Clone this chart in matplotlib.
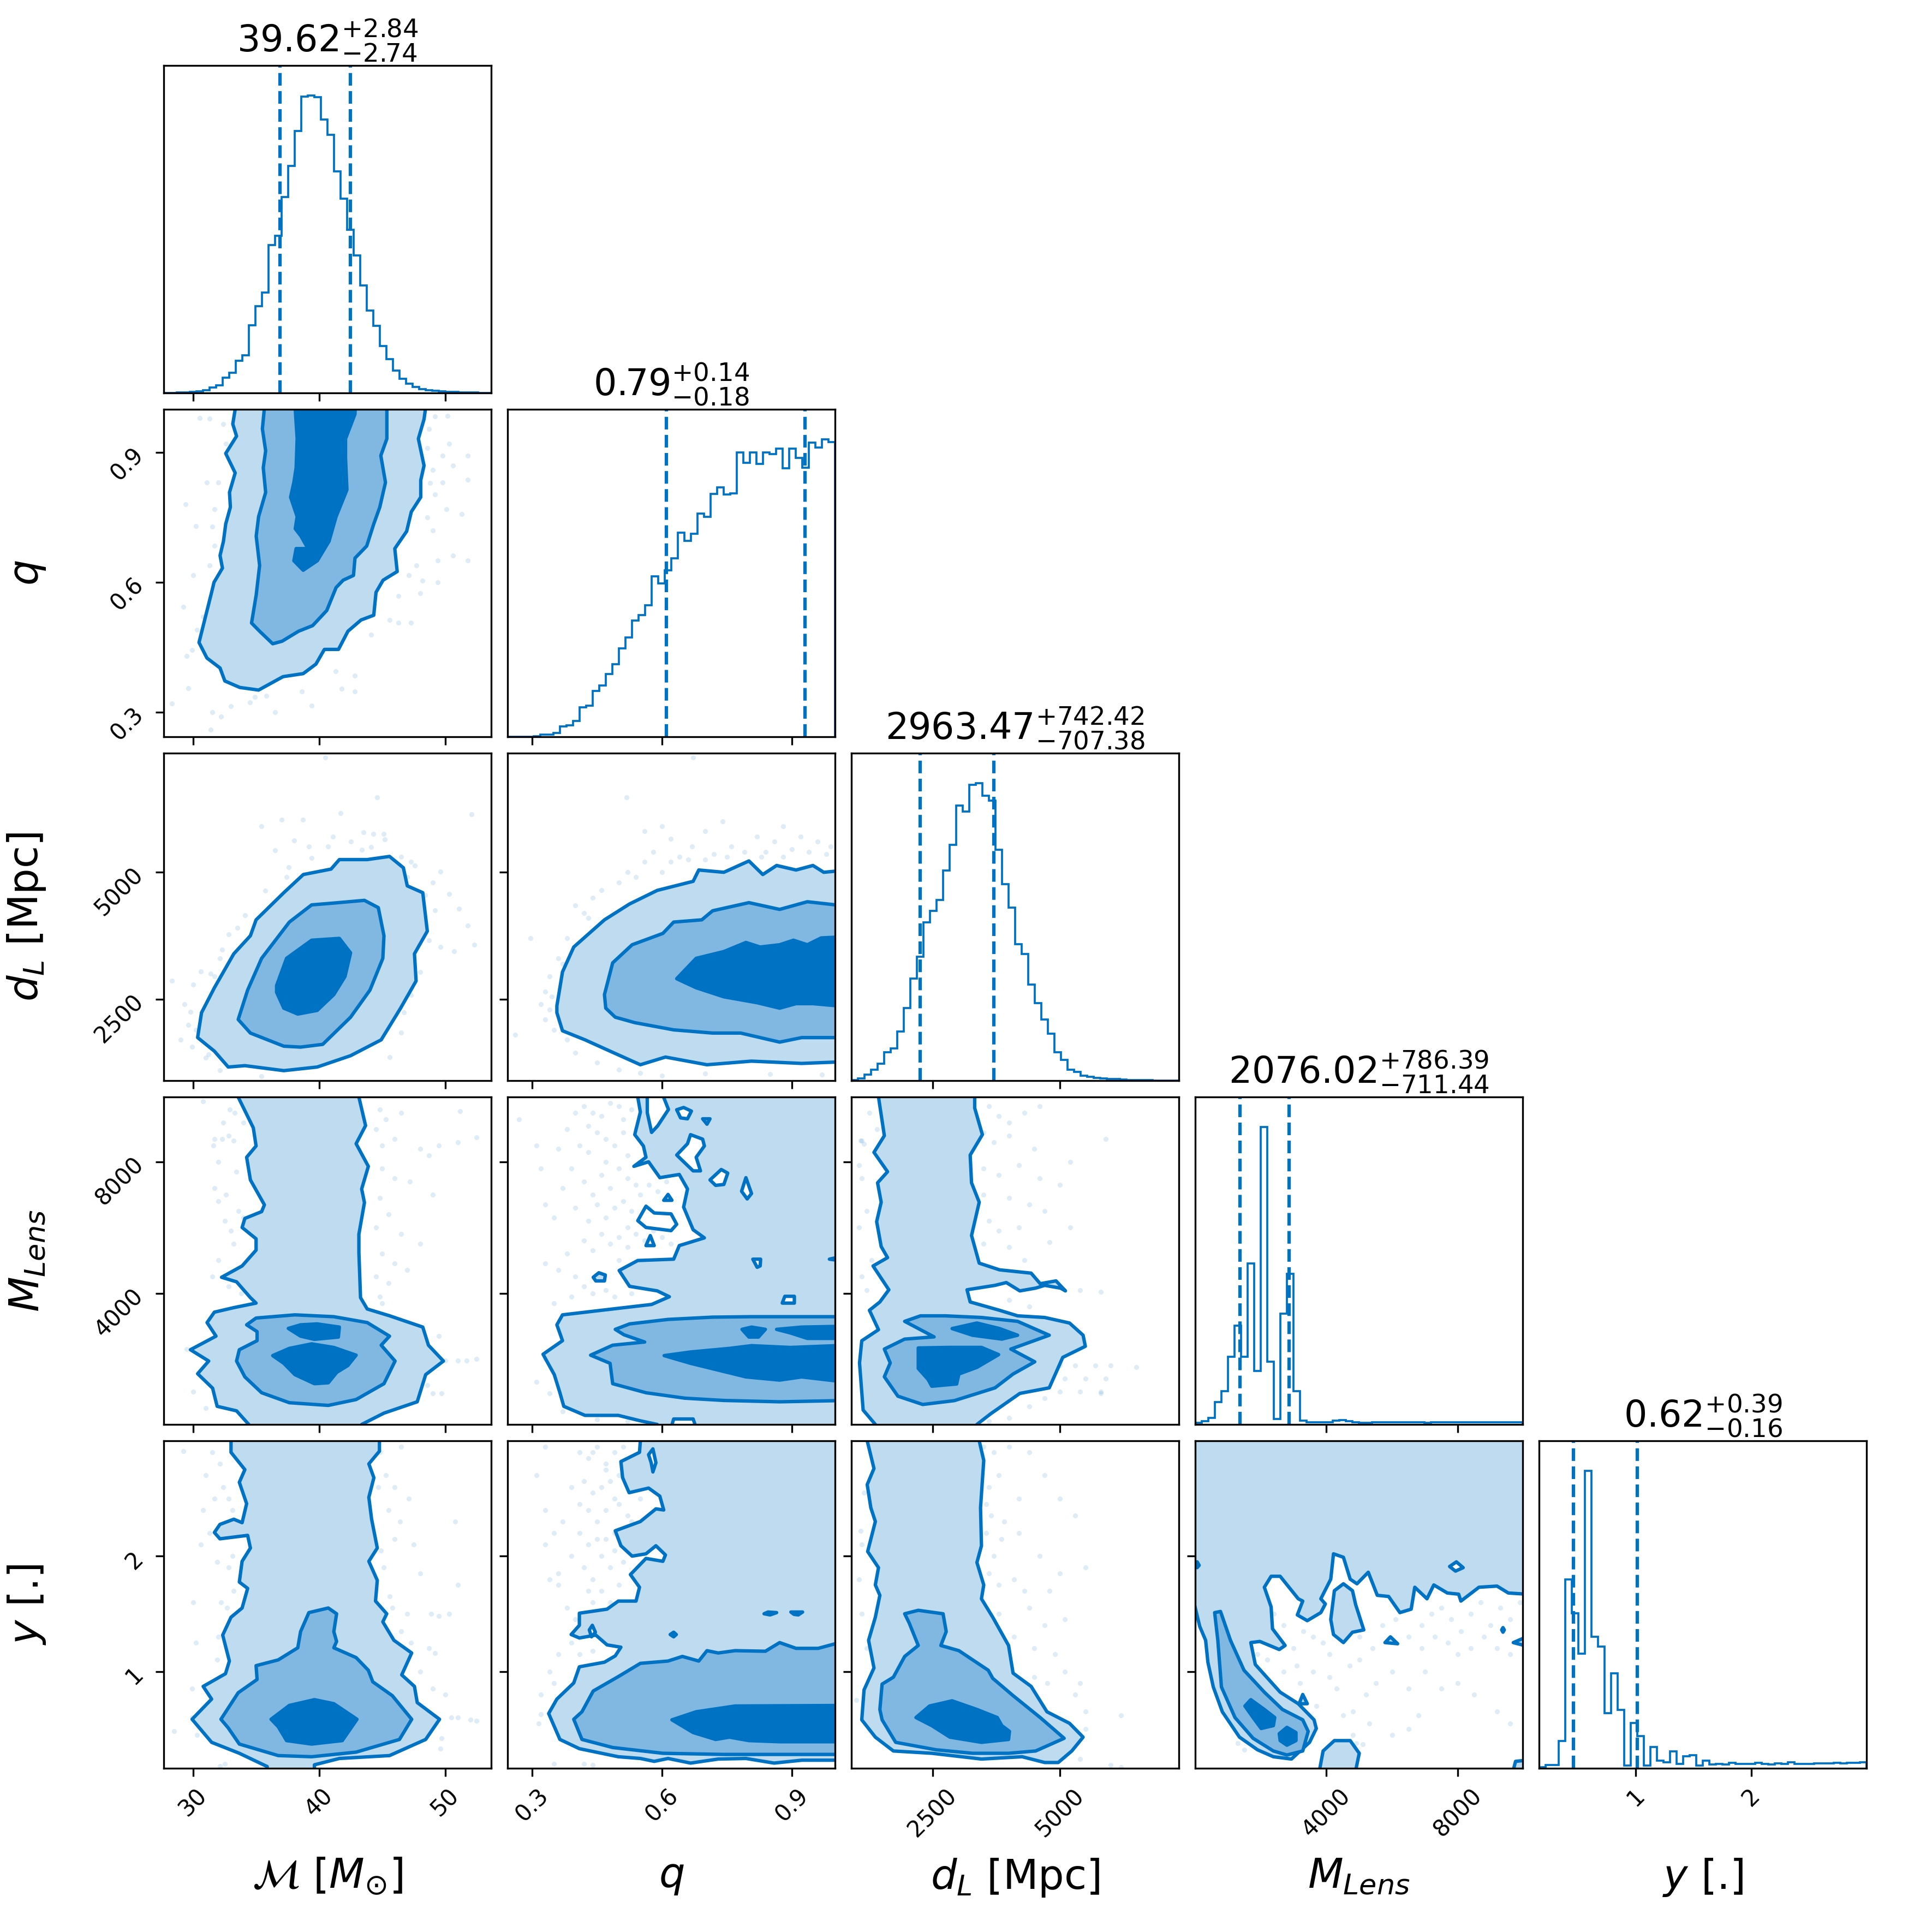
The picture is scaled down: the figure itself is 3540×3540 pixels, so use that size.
import numpy as np
import matplotlib
matplotlib.use("Agg")
import matplotlib.pyplot as plt

# parameter ranges and ticks
lims = [(27.66, 53.65), (0.243, 1.0), (900, 7340), (0, 9980), (0.16, 3.0)]
ticks = [[30, 40, 50], [0.3, 0.6, 0.9], [2500, 5000], [4000, 8000], [1, 2]]
tick_labels = [["30", "40", "50"], ["0.3", "0.6", "0.9"], ["2500", "5000"], ["4000", "8000"], ["1", "2"]]
labels = [r"$\mathcal{M}$ [$M_{\odot}$]", r"$q$", r"$d_L$ [Mpc]", r"$M_{Lens}$", r"$y$ [.]"]

# median, +err, -err
medians = [39.62, 0.79, 2963.47, 2076.02, 0.62]
err_up = [2.84, 0.14, 742.42, 786.39, 0.39]
err_lo = [2.74, 0.18, 707.38, 711.44, 0.16]

# histograms, 50 bins
hist_mc = [0, 0, 1, 1, 2, 3, 6, 11, 16, 31, 41, 66, 77, 139, 177, 205, 303, 322, 401, 464, 536, 606, 609, 605, 559,
           528, 453, 398, 334, 281, 220, 169, 137, 96, 69, 46, 29, 19, 12, 8, 6, 4, 3, 2, 2, 1, 1, 1, 0, 0]
hist_q = [0, 0, 0, 0, 1, 5, 4, 8, 21, 24, 32, 60, 64, 94, 105, 129, 149, 181, 204, 238, 249, 269, 329, 314, 341,
          366, 418, 401, 416, 457, 451, 498, 511, 496, 499, 583, 561, 583, 559, 583, 579, 591, 550, 591, 571,
          551, 603, 593, 610, 604]
hist_dl = [1, 4, 12, 22, 34, 58, 66, 100, 148, 208, 252, 322, 346, 368, 428, 480, 560, 548, 602, 606, 580, 570, 470,
           400, 352, 278, 258, 196, 158, 124, 96, 58, 42, 22, 18, 10, 8, 6, 4, 3, 3, 2, 1, 1, 1, 1, 0, 0, 0, 0]
hist_ml = [5, 11, 23, 80, 120, 244, 356, 244, 578, 192, 1070, 225, 20, 399, 541, 120, 14, 7, 7, 7, 8, 13, 15, 11, 8,
           6, 6, 8, 8, 8, 8, 8, 8, 8, 7, 6, 7, 8, 8, 8, 8, 8, 7, 8, 8, 8, 8, 8, 8, 8]
hist_y = [3, 10, 10, 83, 578, 474, 350, 911, 403, 373, 168, 291, 178, 8, 138, 98, 8, 65, 23, 18, 52, 13, 36, 40, 8,
          23, 11, 13, 12, 16, 14, 13, 14, 16, 14, 12, 15, 13, 18, 13, 14, 13, 15, 15, 15, 16, 15, 16, 16, 18]

# chirp mass vs q
mc_q_outer = [(33.33, 1.05), (33.33, 1.0), (33.14, .966), (33.44, .938), (32.58, .898), (33.33, .853), (32.88, .808),
              (32.95, .774), (32.58, .735), (32.40, .695), (32.13, .662), (32.32, .633), (31.65, .600), (31.46, .577),
              (31.02, .526), (30.46, .461), (31.09, .425), (32.13, .402), (32.51, .372), (33.70, .357), (35.19, .351),
              (37.13, .382), (38.73, .389), (39.74, .411), (40.41, .445), (41.53, .445), (42.28, .487), (43.32, .513),
              (44.33, .524), (44.51, .577), (45.07, .605), (46.19, .625), (46.0, .678), (46.94, .718), (47.31, .763),
              (48.06, .797), (48.06, .836), (48.32, .870), (47.87, .932), (48.32, .977), (48.43, 1.0), (48.43, 1.05)]
mc_q_mid = [(35.64, 1.05), (35.64, 1.0), (35.49, .955), (35.75, .904), (35.56, .865), (35.75, .808), (35.19, .752),
            (35.0, .707), (35.27, .639), (35.0, .571), (34.63, .506), (35.27, .487), (36.31, .458), (37.06, .464),
            (38.36, .487), (39.48, .500), (40.6, .535), (41.34, .588), (41.9, .605), (42.72, .616), (42.84, .656),
            (43.77, .684), (44.33, .735), (44.81, .774), (45.26, .831), (44.89, .893), (45.37, .932), (45.37, 1.05)]
mc_q_inner = [(38.1, 1.05), (38.1, 1.0), (38.25, .932), (38.17, .865), (37.99, .831), (37.73, .797), (38.25, .752),
              (38.1, .724), (38.55, .707), (39.11, .678), (38.17, .678), (37.99, .650), (38.73, .628), (39.85, .650),
              (40.78, .695), (41.34, .752), (42.2, .814), (42.09, .887), (42.09, .932), (42.84, .989), (42.91, 1.05)]
mc_q_pts = [(30.5, .98), (30, .616), (29.4, .78), (29.2, .543), (30.2, .73), (29.9, .444), (29.6, .355), (28.3, .32),
            (31.4, .26), (33, .314), (34.5, .323), (34.9, .335), (35.8, .337), (38.6, .348), (39.4, .315), (41.8, .354),
            (42.8, .348), (42.8, .384), (41.3, .395), (44.1, .479), (45.6, .513), (46.3, .507), (47.3, .507), (46.3, .569),
            (48, .575), (48.2, .604), (47.1, .616), (47.7, .639), (49.4, .650), (50.6, .662), (51.8, .650), (49.4, .600),
            (50.1, .769), (51.3, .758), (49.2, .803), (49.8, .831), (51.8, .837), (50.6, .870), (49.8, .893), (51.8, .893),
            (50.3, .921), (49.2, .983), (50.2, .985), (48.7, .955), (48.6, .910), (31.1, .831), (31.7, .769), (31.5, .729),
            (31.3, .639), (32.6, .921), (32.4, .966), (31.3, .978), (32, .831), (31.7, .684), (49, .860), (48.8, .830),
            (30.8, .52), (30.3, .49), (29.5, .43), (31.5, .30), (32.2, .29), (36.5, .30), (48.6, .75), (49, .72)]

# chirp mass vs distance
mc_d_outer = [(30.35, 1746), (30.66, 2236), (31.68, 2726), (33.22, 3394), (34.54, 3750), (34.99, 4062), (37.19, 4596),
              (38.74, 4953), (40.94, 5060), (41.6, 5247), (43.81, 5247), (45.58, 5309), (46.68, 5086), (46.99, 4730),
              (48.22, 4596), (48.58, 3839), (47.56, 3394), (47.69, 2860), (46.46, 2325), (44.92, 1702), (42.49, 1390),
              (39.84, 1167), (37.19, 1096), (34.1, 1194), (32.78, 1167), (31.68, 1479)]
mc_d_mid = [(33.57, 2102), (34.32, 2681), (35.43, 3305), (37.63, 4018), (39.4, 4356), (41.16, 4392), (43.59, 4445),
            (44.69, 4302), (45.14, 3750), (45.05, 3305), (44.03, 2681), (42.49, 2147), (40.28, 1613), (38.52, 1559),
            (37.19, 1577), (34.54, 1835)]
mc_d_inner = [(36.62, 2770), (37.41, 3305), (39.4, 3661), (41.6, 3697), (42.49, 3412), (42.05, 2949), (41.16, 2592),
              (39.84, 2281), (38.3, 2209), (37.19, 2325), (36.62, 2637)]
mc_d_pts = [(40.5, 7250), (44.6, 6470), (52.1, 6140), (41.7, 6160), (38.7, 6030), (37, 6030), (35.4, 5900), (43.5, 5780),
            (45.1, 5750), (40.7, 5500), (39.4, 5280), (37.4, 4900), (35.7, 4640), (34.1, 4150), (32.8, 3780), (32.3, 3480),
            (31.7, 2950), (30.6, 3050), (30, 2790), (29.8, 2250), (29.6, 2000), (28.3, 2860), (29, 1700), (29.9, 1570),
            (31.2, 1420), (32.1, 1100), (35.4, 990), (45.6, 1360), (46.5, 1840), (47.6, 5130), (48.4, 4550), (49.6, 5010),
            (50.3, 4570), (51.1, 4280), (51.8, 3950), (52.3, 3570), (50.7, 3440), (49.6, 3530), (48.7, 3660), (48, 3040),
            (47.3, 2590), (46.7, 2240), (42.5, 5600), (44.3, 5750), (45.2, 5640), (43.4, 5440), (39.2, 5500), (38, 5620),
            (36.5, 5430), (37.6, 5100), (46.5, 5300), (47.3, 5200), (48, 4100), (49.2, 4250), (30.2, 1900), (31, 1350),
            (33.5, 3900), (32.1, 3300), (29.3, 2400), (31.4, 3000), (44.1, 5490), (41.1, 5700), (47, 4900), (49, 4800)]

# q vs distance
q_d_outer = [(1.03, 1274), (.923, 1238), (.807, 1283), (.704, 1212), (.608, 1363), (.550, 1212), (.480, 1479), (.422, 1702),
             (.370, 1880), (.357, 2236), (.357, 2370), (.370, 3038), (.396, 3527), (.467, 4062), (.525, 4374), (.589, 4641),
             (.672, 4819), (.685, 5042), (.743, 4997), (.801, 5220), (.833, 4953), (.865, 5131), (.910, 5042), (.949, 5131),
             (.974, 4997), (1.03, 5042)]
q_d_mid = [(1.03, 1746), (.923, 1746), (.872, 1657), (.782, 1835), (.717, 1835), (.627, 1898), (.537, 2040), (.492, 2147),
           (.470, 2325), (.467, 2592), (.486, 3216), (.531, 3572), (.602, 3795), (.627, 4018), (.692, 4062), (.717, 4240),
           (.801, 4400), (.872, 4267), (.936, 4418), (1.03, 4329)]
q_d_inner = [(.634, 2904), (.679, 3305), (.743, 3438), (.794, 3617), (.827, 3527), (.872, 3572), (.904, 3661), (.936, 3572),
             (.968, 3706), (1.03, 3732), (1.03, 2352), (.949, 2414), (.910, 2414), (.872, 2325), (.820, 2432), (.743, 2548),
             (.679, 2726)]
q_d_pts = [(.518, 6470), (.672, 7250), (.296, 3700), (.261, 1800), (.40, 4350), (.42, 4200), (.44, 4500), (.46, 4650), (.38, 3700),
           (.36, 3300), (.34, 2950), (.33, 2650), (.32, 2400), (.34, 2300), (.35, 1900), (.38, 1700), (.40, 1450), (.45, 1250),
           (.50, 1120), (.55, 1050), (.60, 1000), (.70, 1040), (.85, 1030), (.97, 1020), (.50, 4800), (.52, 5000), (.56, 5200),
           (.58, 5400), (.60, 5000), (.62, 5650), (.64, 5300), (.67, 5500), (.70, 5800), (.72, 5350), (.74, 6000), (.76, 5500),
           (.79, 5400), (.82, 5700), (.84, 5400), (.86, 5600), (.88, 5900), (.90, 5450), (.92, 5700), (.94, 5400), (.96, 5600),
           (.98, 5350), (.99, 5500), (.62, 5200), (.66, 5250), (.70, 5250), (.75, 5300), (.83, 5300), (.88, 5300), (.54, 4900),
           (.43, 4100), (.37, 3200), (.345, 2550), (.33, 2100), (.56, 5800), (.60, 5900)]

# chirp mass vs lens mass
mc_ml_outer = [(33.57, 10100), (33.57, 9977), (34.77, 9039), (34.99, 8487), (34.24, 8142), (34.54, 7452), (35.65, 6693),
               (35.43, 6486), (34.1, 6279), (33.88, 6003), (34.99, 5658), (34.99, 5313), (33.88, 4830), (32.25, 4485),
               (33.44, 4347), (34.54, 3864), (34.99, 3698), (33.22, 3560), (31.68, 3422), (31.1, 3105), (31.81, 2691),
               (29.78, 2277), (31.23, 1932), (30.35, 1546), (31.54, 1104), (31.9, 552), (33.44, 414), (34.41, 0), (34.41, -200),
               (43.37, -200), (43.37, 0), (45.14, 345), (47.78, 690), (48.45, 1518), (49.86, 1932), (48.67, 2415), (48.22, 2967),
               (45.58, 3312), (43.81, 3519), (43.28, 3864), (43.15, 5244), (43.15, 5796), (43.59, 6762), (43.37, 7176),
               (43.9, 7866), (42.93, 8556), (43.68, 9108), (43.15, 9977), (43.15, 10100)]
mc_ml_mid = [(34.24, 3036), (34.99, 3243), (38.07, 3340), (41.16, 3284), (43.81, 3105), (45.58, 2691), (44.92, 2415),
             (46.02, 1932), (45.14, 1242), (42.93, 759), (40.72, 580), (37.63, 662), (35.43, 966), (34.1, 1449), (33.44, 1932),
             (33.66, 2277), (35.07, 2553), (35.07, 2829)]
mc_ml_inner_a = [(37.55, 2926), (38.52, 3036), (39.84, 3064), (41.6, 2967), (41.52, 2663), (39.62, 2594), (38.52, 2691)]
mc_ml_inner_b = [(36.31, 2098), (37.63, 2318), (39.4, 2456), (41.16, 2346), (42.93, 2111), (42.27, 1794), (41.39, 1587),
                 (40.72, 1270), (39.62, 1242), (38.07, 1518), (37.19, 1863)]
mc_ml_pts = [(31.7, 8700), (32.3, 8700), (32.8, 8800), (33.2, 8650), (31.6, 8500), (32.4, 9200), (33.3, 9500), (34, 9200),
             (32.9, 9600), (30.8, 9850), (32, 8000), (33.4, 7700), (31.7, 7200), (32.6, 7000), (33.6, 6500), (32.5, 6200),
             (33.2, 5500), (32, 5000), (33.9, 4700), (31.5, 4500), (32.8, 4200), (33.8, 4000), (33, 5900), (32, 6800), (34, 6300),
             (44.8, 9600), (45.3, 9300), (46.5, 9500), (44.5, 9000), (45, 8500), (46, 8700), (48, 8400), (48.7, 8200), (51, 8600),
             (45, 7800), (46, 7500), (47.2, 7400), (49, 7000), (44.8, 6900), (45.5, 6400), (44.5, 6000), (46.5, 5800), (48, 5500),
             (45, 5200), (46, 4900), (47, 4700), (44.5, 4500), (45.5, 4300), (44.8, 3900), (45, 3700), (49.5, 2700), (51, 1950),
             (51.7, 1950), (52.5, 2000), (50, 1950), (48.6, 1200), (49, 950), (49.7, 950), (30, 1000), (31, 500), (29.5, 2300),
             (52.5, 8750), (51.2, 9550), (49.5, 8500)]

# q vs lens mass
q_ml_outer = [(.544, 10100), (.544, 9977), (.550, 9522), (.537, 8832), (.557, 8487), (.563, 8142), (.535, 7866), (.569, 8004),
              (.595, 7521), (.640, 7618), (.659, 7176), (.650, 6624), (.672, 5934), (.698, 5686), (.640, 5451), (.627, 5037),
              (.544, 4996), (.501, 4692), (.525, 4209), (.589, 4071), (.617, 3892), (.576, 3657), (.486, 3519), (.370, 3340),
              (.357, 3036), (.370, 2553), (.325, 2139), (.351, 1518), (.364, 966), (.373, 552), (.422, 276), (.499, 276),
              (.550, 110), (.589, 0), (.589, -200), (1.03, -200), (1.03, 10100)]
q_ml_mid = [(1.03, 3284), (.807, 3284), (.717, 3270), (.614, 3201), (.525, 3064), (.492, 2898), (.512, 2733), (.560, 2512),
            (.486, 2415), (.435, 2111), (.480, 1863), (.486, 1242), (.563, 966), (.653, 800), (.743, 731), (.872, 690), (1.03, 731)]
q_ml_inner_a = [(.605, 2098), (.666, 2208), (.756, 2318), (.807, 2401), (.897, 2346), (1.03, 2415), (1.03, 1283), (.923, 1449),
                (.872, 1352), (.794, 1449), (.730, 1656), (.666, 1863)]
q_ml_inner_b = [(.785, 2898), (.807, 2967), (.839, 2898), (.823, 2663), (.801, 2663)]
q_ml_inner_c = [(.865, 2898), (.923, 2967), (1.03, 2994), (1.03, 2622), (.936, 2622), (.897, 2788)]
q_ml_holes = [
    [(.634, 9591), (.650, 9660), (.668, 9550), (.659, 9315), (.643, 9343)],
    [(.694, 9315), (.711, 9315), (.704, 9150)],
    [(.566, 10100), (.566, 9500), (.576, 8900), (.590, 9100), (.615, 9600), (.600, 10100)],
    [(.666, 8832), (.694, 8694), (.698, 8487), (.679, 8142), (.689, 7728), (.672, 7728), (.634, 8211), (.659, 8556)],
    [(.711, 7452), (.737, 7770), (.752, 7659), (.743, 7314), (.724, 7286)],
    [(.794, 7521), (.807, 7038), (.797, 6873), (.784, 7107)],
    [(.544, 6210), (.563, 6652), (.582, 6445), (.621, 6417), (.634, 6100), (.621, 5906), (.563, 6003)],
    [(.604, 6831), (.614, 7010), (.623, 6831)],
    [(.563, 5451), (.573, 5755), (.582, 5451)],
    [(.810, 5037), (.828, 5037), (.827, 4830), (.820, 4789)],
    [(.987, 5037), (1.01, 5106), (1.01, 4996)],
    [(.878, 3698), (.884, 3905), (.906, 3905), (.906, 3698)],
    [(.621, -100), (.627, 166), (.672, 166), (.679, -100)],
]
q_ml_islands = [[(.441, 4485), (.454, 4623), (.469, 4554), (.467, 4374), (.447, 4374)]]
q_ml_pts = [(.27, 9300), (.31, 8500), (.32, 7800), (.33, 6700), (.36, 8400), (.38, 9000), (.40, 9500), (.42, 9700), (.44, 9500),
            (.46, 9400), (.48, 9800), (.50, 9700), (.53, 9600), (.35, 6300), (.37, 7200), (.39, 7800), (.41, 8500), (.43, 8300),
            (.45, 8900), (.47, 8700), (.49, 8500), (.51, 8900), (.52, 8200), (.54, 9000), (.42, 7400), (.44, 7000), (.46, 7600),
            (.48, 7200), (.50, 7800), (.52, 7500), (.54, 7300), (.40, 6600), (.43, 6200), (.45, 6700), (.47, 6300), (.49, 6600),
            (.51, 6800), (.53, 6500), (.55, 7000), (.57, 7300), (.59, 7100), (.61, 7400), (.42, 5600), (.44, 5300), (.46, 5800),
            (.48, 5500), (.50, 5700), (.52, 5400), (.54, 5800), (.56, 5600), (.58, 5900), (.60, 5700), (.62, 5500), (.64, 5300),
            (.38, 5200), (.36, 4700), (.40, 4500), (.42, 4200), (.44, 4000), (.47, 4100), (.49, 3900), (.53, 4000), (.56, 4200),
            (.33, 4900), (.39, 3900), (.35, 3700), (.33, 2000), (.31, 1300), (.34, 950), (.37, 400), (.45, 150), (.52, 100),
            (.58, 7900), (.52, 6000), (.50, 5000), (.47, 8000), (.55, 6200), (.57, 6600), (.43, 9100), (.51, 9300)]

# distance vs lens mass
d_ml_outer = [(1433, 10100), (1433, 9982), (1548, 8800), (1344, 8293), (1611, 7702), (1415, 7364), (1486, 6773), (1397, 6182),
              (1486, 5422), (1611, 5084), (1326, 4830), (1637, 4104), (1460, 3733), (1255, 3479), (1433, 2888), (1104, 2550),
              (1060, 1875), (1131, 439), (1371, 0), (1371, -200), (3369, -200), (3369, 0), (3636, 321), (4213, 946), (4791, 1115),
              (5057, 2044), (5501, 2381), (5457, 2719), (5190, 3091), (4702, 3260), (4169, 3310), (3814, 3479), (3236, 3733),
              (3174, 4104), (3725, 4239), (3947, 4324), (4213, 4070), (4524, 4155), (4702, 4239), (5013, 4155), (5110, 4070),
              (4924, 4375), (4613, 4290), (4435, 4611), (3814, 4712), (3414, 4915), (3263, 5759), (3414, 6773), (3263, 7364),
              (3236, 8209), (3476, 8833), (3325, 9644), (3325, 10100)]
d_ml_mid = [(1548, 2297), (1948, 2601), (2526, 2669), (1948, 3142), (2259, 3310), (2748, 3310), (3458, 3260), (4169, 3142),
            (4791, 2719), (4036, 2297), (4506, 1909), (4080, 1537), (3725, 1115), (2925, 726), (2303, 608), (1815, 861),
            (1548, 1453), (1664, 1875)]
d_ml_inner_a = [(2881, 2922), (3369, 3091), (3814, 2922), (4169, 2719), (3858, 2601), (3281, 2719)]
d_ml_inner_b = [(2215, 2331), (2837, 2348), (3458, 2348), (3796, 2128), (3369, 1740), (3014, 1537), (2970, 1233), (2481, 1165),
                (2410, 1368), (2215, 1706)]
d_ml_pts = [(1080, 8650), (1100, 8650), (1150, 8550), (1050, 7900), (1100, 7500), (1200, 6500), (1050, 6000), (1300, 5000),
            (1100, 4500), (1200, 4100), (1400, 9000), (1250, 9500), (3600, 9700), (3800, 9400), (4000, 9200), (4300, 9500),
            (4600, 9700), (3500, 8900), (3700, 8600), (4000, 8800), (4500, 8400), (5200, 8000), (5900, 8700), (3500, 7800),
            (3800, 7600), (4200, 7900), (4600, 7500), (5000, 7300), (3500, 7000), (4000, 6900), (4400, 6700), (4700, 6500),
            (3600, 6200), (3800, 5900), (4200, 6000), (5200, 6000), (3500, 5500), (4000, 5400), (4300, 5000), (4800, 5550),
            (3600, 4600), (4100, 4400), (5400, 4100), (5800, 4050), (4000, 3800), (4400, 3600), (5000, 1800), (5300, 1800),
            (5700, 1800), (6000, 1800), (5100, 1400), (5500, 1400), (5900, 1400), (5000, 1000), (5400, 1000), (5800, 1000),
            (6500, 1750), (5800, 950), (4700, 800), (4400, 550), (4000, 200), (3600, 100)]

# chirp mass vs y
mc_y_outer = [(33.0, 3.1), (33.0, 3.0), (33.0, 2.90), (34.1, 2.75), (33.66, 2.64), (34.24, 2.455), (33.88, 2.29), (33.22, 2.32),
              (32.12, 2.275), (31.68, 2.205), (32.12, 2.15), (34.32, 2.18), (34.54, 2.07), (33.88, 1.955), (33.66, 1.775),
              (34.32, 1.72), (33.88, 1.55), (33.0, 1.47), (32.34, 1.315), (32.87, 1.09), (32.56, .98), (30.79, .87), (31.46, .76),
              (29.91, .585), (31.46, .385), (33.66, .29), (35.87, .175), (35.87, .1), (39.62, .1), (39.62, .19), (41.6, .245),
              (45.58, .27), (48.45, .41), (49.55, .585), (47.78, .73), (47.56, .87), (46.55, .97), (47.34, 1.16), (45.93, 1.27),
              (45.05, 1.43), (45.36, 1.50), (44.47, 1.61), (44.61, 1.79), (43.94, 1.955), (44.61, 2.07), (44.16, 2.32), (43.94, 2.51),
              (44.34, 2.68), (43.94, 2.80), (44.78, 2.91), (44.78, 3.1)]
mc_y_mid = [(32.2, .585), (33.57, .815), (35.07, .93), (34.99, 1.05), (36.75, 1.10), (38.3, 1.205), (38.52, 1.345), (39.18, 1.51),
            (40.72, 1.55), (41.38, 1.50), (41.16, 1.345), (41.38, 1.26), (41.16, 1.205), (42.93, 1.12), (43.9, 1.01), (44.25, .91),
            (45.8, .79), (47.34, .585), (46.37, .41), (42.93, .30), (39.4, .26), (36.75, .27), (33.66, .37), (32.78, .51)]
mc_y_inner = [(36.18, .585), (37.63, .705), (39.62, .755), (41.16, .72), (43.0, .585), (41.83, .40), (39.4, .37), (37.41, .40),
              (36.75, .52)]
mc_y_pts = [(29.2, 2.91), (31, 2.7), (30.8, 2.4), (31.5, 2.9), (32.4, 2.6), (32.8, 2.5), (33.1, 2.4), (32.1, 2.8), (30.6, 2.1),
            (31.3, 2.2), (31.9, 1.95), (32.8, 1.9), (33.2, 1.7), (32.2, 1.6), (32.7, 1.55), (30, 1.6), (30.2, 1.25), (31.9, 1.1),
            (32.1, .95), (29.9, .85), (29.9, .6), (28.5, .48), (30.3, .45), (32.5, .2), (32.1, .18), (44.8, 2.9), (45.3, 2.7),
            (46.5, 2.95), (47.1, 2.5), (45.5, 2.4), (46.4, 2.3), (44.7, 2.6), (46, 2.15), (47.5, 2.1), (48, 1.85), (50.8, 2.3),
            (51, 1.75), (48.9, 1.5), (49.5, 1.48), (50.3, 1.5), (46.5, 1.35), (47.3, 1.25), (48.7, 1.2), (49.2, 1.16), (48, 1.0),
            (47.5, .85), (49, .85), (50, .8), (50.5, .6), (51, .6), (52, .58), (52.5, .57), (49.7, .42), (49.6, .33), (45.6, 1.65),
            (45.1, 1.9), (46, 2.6), (44.9, 2.05), (45.8, 1.55), (47, 1.5), (34, 2.95), (32, 1.3), (33.1, 2.0), (31.7, 2.5)]

# q vs y
q_y_outer = [(.550, 3.1), (.550, 3.0), (.548, 2.90), (.505, 2.82), (.509, 2.68), (.524, 2.55), (.569, 2.59), (.595, 2.52), (.604, 2.40),
             (.586, 2.41), (.550, 2.30), (.492, 2.22), (.505, 2.09), (.531, 2.0), (.563, 2.02), (.586, 2.09), (.608, 2.01), (.602, 1.955),
             (.563, 1.98), (.527, 1.84), (.548, 1.73), (.540, 1.61), (.499, 1.61), (.473, 1.54), (.409, 1.505), (.409, 1.40), (.390, 1.32),
             (.409, 1.29), (.447, 1.315), (.473, 1.23), (.505, 1.21), (.492, 1.135), (.467, 1.08), (.409, 1.04), (.396, .90), (.357, .76),
             (.338, .635), (.364, .41), (.409, .33), (.499, .26), (.550, .245), (.582, .22), (.614, .245), (.666, .205), (.730, .24),
             (.794, .245), (.859, .205), (.923, .23), (1.03, .23), (1.03, 3.1)]
q_y_mid = [(1.03, 1.27), (.961, 1.20), (.910, 1.20), (.872, 1.25), (.839, 1.175), (.769, 1.18), (.730, 1.16), (.704, 1.18), (.685, 1.09),
           (.647, 1.13), (.614, 1.09), (.550, 1.07), (.499, .955), (.441, .83), (.415, .65), (.396, .585), (.415, .41), (.486, .34),
           (.602, .29), (.743, .28), (1.03, .28)]
q_y_inner = [(.623, .58), (.679, .65), (.769, .70), (1.03, .705), (1.03, .39), (.872, .39), (.801, .40), (.756, .43), (.724, .41), (.672, .47)]
q_y_holes = [[(.575, 2.81), (.569, 2.88), (.579, 2.93), (.586, 2.81), (.579, 2.73)],
             [(.432, 1.36), (.439, 1.40), (.446, 1.34), (.437, 1.30)]]
q_y_dark = [[(.619, 1.32), (.627, 1.34), (.633, 1.32), (.627, 1.30)],
            [(.836, 1.50), (.845, 1.515), (.865, 1.51), (.85, 1.49)],
            [(.898, 1.515), (.925, 1.515), (.915, 1.49), (.905, 1.495)]]
q_y_pts = [(.33, 2.95), (.31, 2.7), (.33, 2.4), (.35, 2.2), (.33, 2.1), (.37, 2.3), (.39, 2.6), (.41, 2.9), (.43, 2.85), (.45, 2.95), (.47, 2.8),
           (.49, 2.9), (.51, 2.95), (.36, 1.85), (.34, 1.8), (.36, 1.75), (.39, 2.0), (.41, 2.2), (.43, 2.1), (.45, 2.3), (.47, 2.4), (.49, 2.5),
           (.42, 2.65), (.44, 2.55), (.46, 2.6), (.48, 2.65), (.50, 2.45), (.52, 2.35), (.42, 1.9), (.44, 1.8), (.46, 2.0), (.48, 1.9), (.50, 1.75),
           (.44, 1.6), (.46, 1.7), (.48, 1.6), (.40, 1.45), (.38, 1.55), (.43, 2.4), (.45, 2.15), (.47, 2.15), (.49, 2.05), (.51, 1.95), (.53, 2.3),
           (.55, 2.5), (.57, 2.7), (.39, 1.25), (.36, 1.15), (.41, 1.15), (.44, 1.18), (.34, 1.0), (.35, .9), (.32, .8), (.315, .55), (.32, .63),
           (.35, .2), (.42, .2), (.44, .19), (.47, 2.75), (.44, 2.9), (.49, 2.2), (.5, 2.7), (.41, 2.45), (.43, 1.7)]

# distance vs y
d_y_outer = [(1211, 3.1), (1211, 3.0), (1344, 2.76), (1211, 2.62), (1282, 2.42), (1371, 2.30), (1220, 2.04), (1433, 1.90), (1371, 1.75),
             (1460, 1.66), (1371, 1.47), (1238, 1.27), (1344, 1.03), (1149, .84), (1104, .58), (1371, .43), (1726, .31), (2481, .29),
             (3458, .24), (4258, .26), (4702, .21), (4968, .21), (5235, .31), (5457, .43), (5190, .55), (4746, .65), (4435, .87),
             (4080, .985), (3991, 1.225), (3680, 1.47), (3458, 1.63), (3503, 1.75), (3369, 1.945), (3458, 2.09), (3440, 2.42),
             (3503, 2.83), (3414, 3.0), (3414, 3.1)]
d_y_mid = [(1460, .67), (1504, .89), (1726, .95), (1948, 1.13), (2215, 1.225), (2037, 1.42), (1948, 1.50), (2215, 1.53), (2703, 1.50),
           (2765, 1.345), (2659, 1.225), (3014, 1.18), (3592, 1.01), (3680, .94), (4080, .79), (4613, .60), (5084, .42), (4524, .31),
           (3991, .29), (3281, .29), (2570, .32), (1771, .385), (1504, .58)]
d_y_inner = [(2170, .60), (2437, .70), (2881, .745), (3369, .67), (3769, .60), (3858, .53), (4009, .48), (3991, .41), (3458, .385),
             (2837, .43), (2481, .53)]
d_y_pts = [(1080, 2.22), (1100, 2.1), (1150, 2.55), (1050, 1.8), (1100, 1.5), (1200, 1.2), (1000, .75), (3500, 2.95), (3700, 2.9), (4000, 2.95),
           (4400, 2.9), (3600, 2.6), (3800, 2.7), (4200, 2.5), (4700, 2.7), (5300, 2.35), (3550, 2.2), (3700, 2.0), (3900, 2.3), (4200, 2.2),
           (4600, 2.0), (5000, 1.85), (5500, 1.9), (3600, 1.85), (3800, 1.75), (4100, 1.8), (4400, 1.55), (4700, 1.4), (5100, 1.45), (3800, 1.5),
           (4100, 1.3), (4500, 1.2), (4900, 1.15), (5100, 1.0), (5400, .9), (5300, .8), (5500, .65), (6200, .62), (5500, .5), (5100, .26), (5400, .24),
           (6000, .19), (6200, .17), (3550, 2.45), (3650, 2.35), (3450, 1.7), (3850, 2.15), (5000, 2.5), (4800, 1.7), (4300, 1.7), (4500, .95), (4750, .9)]

# lens mass vs y
ml_y_outer = [(-100, 1.67), (138, 1.39), (317, 1.27), (386, 1.08), (551, .865), (826, .65), (1349, .43), (1900, .32), (2382, .26), (2933, .24),
              (3484, .385), (3690, .505), (3622, .58), (3140, .72), (2589, .82), (1831, 1.06), (1694, 1.25), (1969, 1.26), (2561, 1.19),
              (2740, 1.225), (2355, 1.37), (2313, 1.56), (2107, 1.73), (2313, 1.825), (2589, 1.825), (3140, 1.63), (3277, 1.61), (3112, 1.49),
              (3415, 1.44), (3828, 1.51), (3966, 1.585), (3828, 1.63), (4131, 1.80), (4214, 2.02), (4517, 1.99), (4723, 1.80), (4930, 1.76),
              (5274, 1.86), (5549, 1.66), (5894, 1.65), (6238, 1.51), (6582, 1.54), (6692, 1.73), (7064, 1.63), (7271, 1.75), (7684, 1.68),
              (8028, 1.67), (8097, 1.61), (8648, 1.73), (9198, 1.74), (9543, 1.68), (10100, 1.67), (10100, 3.1), (-100, 3.1)]
ml_y_mid = [(592, 1.51), (771, 1.52), (1074, 1.27), (1487, 1.01), (2107, .82), (2658, .67), (3277, .58), (3443, .48), (3277, .31), (2795, .275),
            (2382, .31), (1763, .42), (1212, .60), (799, .865), (689, 1.27)]
ml_y_inner_a = [(1515, .70), (1694, .755), (2107, .67), (2424, .60), (2382, .53), (2010, .505), (1763, .60)]
ml_y_inner_b = [(2561, .46), (2795, .515), (3071, .47), (3071, .40), (2795, .36), (2589, .40)]
ml_y_islands = [[(4131, 1.45), (4241, 1.70), (4517, 1.76), (4793, 1.70), (4889, 1.58), (5137, 1.36), (4793, 1.34), (4517, 1.25), (4214, 1.32)],
                [(3759, .1), (3897, .31), (4241, .40), (4723, .40), (4999, .29), (4861, .1)],
                [(3167, .72), (3277, .80), (3415, .72)],
                [(5784, 1.25), (5949, 1.30), (6169, 1.24)],
                [(9694, 1.25), (10100, 1.30), (10100, 1.22)],
                [(9653, .1), (9763, .22), (10100, .23), (10100, .1)]]
ml_y_holes = [[(7753, 1.91), (7960, 1.95), (8166, 1.90), (7932, 1.87)]]
ml_y_dark = [[(0, 1.92), (60, 1.95), (120, 1.92), (60, 1.90)], [(9340, 1.36), (9380, 1.38), (9420, 1.36), (9380, 1.34)]]
ml_y_pts = [(2400, 1.5), (2700, 1.4), (2500, 1.3), (3000, 1.2), (3300, 1.35), (3600, 1.3), (3900, 1.25), (4100, 1.15), (3100, 1.05), (3600, 1.0),
            (4100, .95), (4700, 1.05), (5000, 1.1), (5400, 1.2), (5700, 1.4), (6100, 1.45), (6500, 1.3), (6900, 1.4), (7200, 1.5), (7500, 1.55),
            (7800, 1.45), (8100, 1.35), (8400, 1.5), (8700, 1.6), (9000, 1.4), (9300, 1.55), (9600, 1.45), (9900, 1.6), (6900, 1.2), (7300, 1.3),
            (7700, 1.25), (8000, 1.15), (8400, 1.2), (8800, 1.3), (9200, 1.2), (9600, 1.15), (5000, 1.3), (5500, .9), (6000, 1.0), (6500, .85),
            (7000, 1.0), (7500, .85), (8000, .9), (8500, .8), (9200, .65), (9600, .55), (4800, .65), (5300, .55), (6000, .45), (6500, .5),
            (4800, .45), (4900, .38), (5100, .37), (4850, .25), (3200, .9), (3700, .7), (3300, .55), (2700, 1.0), (2200, 1.1), (1900, 1.15),
            (4300, .85), (5200, .8), (4500, .62), (6800, .62), (1300, .38), (1500, .32)]

line_color = "#0072c4"
mid_color = "#80b8e1"
light_color = "#bfdbf0"


def poly(ax, verts, color):
    xs = [v[0] for v in verts]
    ys = [v[1] for v in verts]
    ax.fill(xs, ys, facecolor=color, edgecolor=line_color, lw=1.5, joinstyle="round")


def panel(ax, pts, outer, mid, inner, holes=(), islands=(), dark=()):
    ax.plot([p[0] for p in pts], [p[1] for p in pts], "o", ms=2.2, mew=0, color=line_color, alpha=0.13, zorder=0.5)
    poly(ax, outer, light_color)
    for h in holes:
        poly(ax, h, "white")
    for h in islands:
        poly(ax, h, light_color)
    poly(ax, mid, mid_color)
    for h in inner:
        poly(ax, h, line_color)
    for h in dark:
        poly(ax, h, line_color)


fig = plt.figure(figsize=(11.8, 11.8), dpi=300)
n = 5
axes = {}
for r in range(n):
    for c in range(r + 1):
        ax = fig.add_axes([(300 + 630 * c) / 3540, 1 - (720 + 630 * r) / 3540, 600 / 3540, 600 / 3540])
        axes[r, c] = ax

panel(axes[1, 0], mc_q_pts, mc_q_outer, mc_q_mid, [mc_q_inner])
panel(axes[2, 0], mc_d_pts, mc_d_outer, mc_d_mid, [mc_d_inner])
panel(axes[2, 1], q_d_pts, q_d_outer, q_d_mid, [q_d_inner])
panel(axes[3, 0], mc_ml_pts, mc_ml_outer, mc_ml_mid, [mc_ml_inner_a, mc_ml_inner_b])
panel(axes[3, 1], q_ml_pts, q_ml_outer, q_ml_mid, [q_ml_inner_a, q_ml_inner_b, q_ml_inner_c], holes=q_ml_holes, islands=q_ml_islands)
panel(axes[3, 2], d_ml_pts, d_ml_outer, d_ml_mid, [d_ml_inner_a, d_ml_inner_b])
panel(axes[4, 0], mc_y_pts, mc_y_outer, mc_y_mid, [mc_y_inner])
panel(axes[4, 1], q_y_pts, q_y_outer, q_y_mid, [q_y_inner], holes=q_y_holes, dark=q_y_dark)
panel(axes[4, 2], d_y_pts, d_y_outer, d_y_mid, [d_y_inner])
panel(axes[4, 3], ml_y_pts, ml_y_outer, ml_y_mid, [ml_y_inner_a, ml_y_inner_b], holes=ml_y_holes, islands=ml_y_islands, dark=ml_y_dark)

hists = [hist_mc, hist_q, hist_dl, hist_ml, hist_y]
for i in range(n):
    ax = axes[i, i]
    edges = np.linspace(lims[i][0], lims[i][1], len(hists[i]) + 1)
    ax.stairs(hists[i], edges, color=line_color, lw=0.9)
    ax.axvline(medians[i] - err_lo[i], color=line_color, ls="--", lw=1.5)
    ax.axvline(medians[i] + err_up[i], color=line_color, ls="--", lw=1.5)
    ax.set_ylim(0, 1.1 * max(hists[i]))
    ax.set_yticks([])
    ax.set_title(f"${medians[i]:.2f}_{{-{err_lo[i]:.2f}}}^{{+{err_up[i]:.2f}}}$", fontsize=16)

for (r, c), ax in axes.items():
    ax.set_xlim(lims[c])
    ax.set_xticks(ticks[c])
    if r != c:
        ax.set_ylim(lims[r])
        ax.set_yticks(ticks[r])
    if r == n - 1:
        ax.set_xticklabels(tick_labels[c], rotation=45, fontsize=10)
        ax.set_xlabel(labels[c], fontsize=18)
        ax.xaxis.set_label_coords(0.5, -0.27)
    else:
        ax.set_xticklabels([])
    if r != c:
        if c == 0:
            ax.set_yticklabels(tick_labels[r], rotation=45, fontsize=10)
            ax.set_ylabel(labels[r], fontsize=18)
            ax.yaxis.set_label_coords(-0.355, 0.5)
        else:
            ax.set_yticklabels([])

fig.savefig("out.png", dpi=300)
